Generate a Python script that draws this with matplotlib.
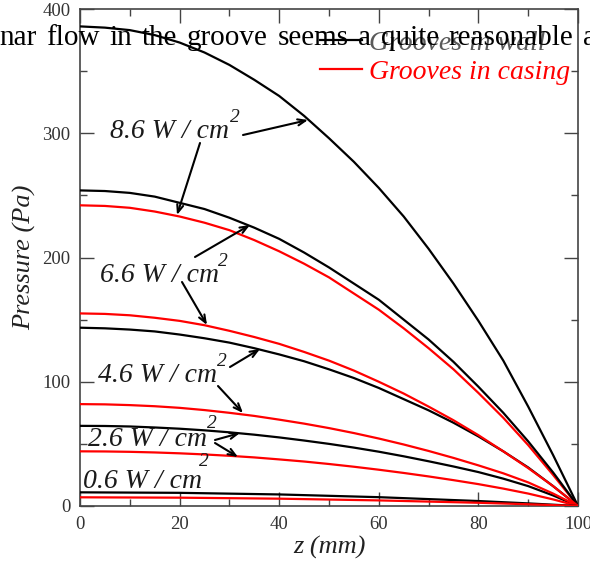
import matplotlib
matplotlib.use("Agg")
import matplotlib.pyplot as plt
from matplotlib.ticker import MultipleLocator

# ---------------- data ----------------
z_grid = [0, 5, 10, 15, 20, 25, 30, 35, 40, 45, 50, 55, 60, 65, 70, 75, 80, 85, 90, 95, 100]

p_b86 = [386, 385, 383, 379, 373, 365, 355, 343, 330, 314, 296, 277, 256, 233, 207, 179, 149, 117, 80, 41, 0]
p_r86 = [242, 241.5, 240, 237, 233, 228, 222, 214, 205, 195, 184, 171, 158, 143, 127, 110, 91, 71, 49, 25, 0]

p_b66 = [254, 253.5, 252, 249, 244, 239, 232, 224, 215, 204, 192, 179, 166, 150, 134, 116, 96, 75, 52, 27, 0]
p_r66 = [155, 154.6, 153.5, 151.5, 149, 145.5, 141, 136, 130.5, 124, 117, 109, 100, 90.5, 80, 69, 57, 44, 30.5, 16, 0]

p_b46 = [143.5, 143, 142, 140.5, 138, 135, 131.5, 127, 122, 116.5, 110, 103, 95, 86, 77, 67, 56, 44, 31, 16, 0]
p_r46 = [82, 81.8, 81.2, 80.3, 79, 77.2, 75, 72.5, 69.5, 66.3, 62.7, 58.7, 54.3, 49.5, 44.3, 38.7, 32.7, 26.3, 19, 10, 0]

p_b26 = [64.5, 64.4, 64, 63.2, 62.2, 60.9, 59.3, 57.4, 55.2, 52.7, 50, 47, 43.7, 40, 36, 31.8, 27.3, 22, 16, 8.5, 0]
p_r26 = [44, 43.9, 43.6, 43.1, 42.4, 41.5, 40.4, 39.1, 37.5, 35.8, 33.8, 31.6, 29.2, 26.6, 23.8, 20.8, 17.6, 14, 10, 5.3, 0]

z_low = [0, 20, 40, 60, 80, 90, 100]
p_b06 = [11, 10.6, 9.3, 7.1, 4.0, 2.1, 0]
p_r06 = [7, 6.7, 5.9, 4.5, 2.6, 1.4, 0]

series_labels = ["Grooves in wall", "Grooves in casing"]
flux_labels = ["8.6 W / cm", "6.6 W / cm", "4.6 W / cm", "2.6 W / cm", "0.6 W / cm"]
x_ticks = [0, 20, 40, 60, 80, 100]
y_ticks = [0, 100, 200, 300, 400]
para_words = ["nar", "flow", "in", "the", "groove", "seems", "a", "quite", "reasonable", "a"]

# ---------------- figure ----------------
W, H = 590, 562
fig = plt.figure(figsize=(W / 100, H / 100), dpi=100)
ax = fig.add_axes([80 / W, 1 - 506 / H, 498 / W, 497 / H])

serif = ["Liberation Serif", "DejaVu Serif"]
lw = 1.6
RED = "#ff0000"
ax.plot(z_grid, p_b86, color="black", lw=lw, label=series_labels[0], zorder=3)
ax.plot(z_grid, p_r86, color=RED, lw=lw, label=series_labels[1], zorder=3)
for pp in [p_b66, p_b46, p_b26]:
    ax.plot(z_grid, pp, color="black", lw=lw, zorder=3)
for pp in [p_r66, p_r46, p_r26]:
    ax.plot(z_grid, pp, color=RED, lw=lw, zorder=3)
ax.plot(z_low, p_b06, color="black", lw=lw, zorder=3)
ax.plot(z_low, p_r06, color=RED, lw=lw, zorder=3)

ax.set_xlim(0, 100)
ax.set_ylim(0, 400)
ax.xaxis.set_major_locator(MultipleLocator(20))
ax.xaxis.set_minor_locator(MultipleLocator(10))
ax.yaxis.set_major_locator(MultipleLocator(100))
ax.yaxis.set_minor_locator(MultipleLocator(50))
ax.set_xticks(x_ticks)
ax.set_yticks(y_ticks)
ax.tick_params(which="both", direction="in", top=True, right=True, color="#444444", width=1.0)
ax.tick_params(which="major", length=10, pad=7, labelsize=13.5, labelcolor="#333333")
ax.tick_params(which="minor", length=5)
for lab in ax.get_xticklabels() + ax.get_yticklabels():
    lab.set_fontfamily(serif)
for sp in ax.spines.values():
    sp.set_color("#444444")
    sp.set_linewidth(1.2)

ax.set_xlabel("z (mm)", fontsize=19, fontstyle="italic", family=serif, color="#222222", labelpad=2)
ax.set_ylabel("Pressure (Pa)", fontsize=19, fontstyle="italic", family=serif, color="#222222", labelpad=4)

# legend
leg = ax.legend(loc="upper left", bbox_to_anchor=(0.482, 0.957), frameon=False,
                prop={"family": serif, "style": "italic", "size": 20},
                handlelength=1.5, handletextpad=0.25, borderpad=0, borderaxespad=0,
                labelspacing=0.12)
for t, c in zip(leg.get_texts(), ["#5a5a5a", RED]):
    t.set_color(c)

# ---------------- annotations ----------------
def px2d(x, y):
    return ((x - 80) / 4.98, (506 - y) / 1.2425)

label_pos = [(110, 132), (100, 275), (98, 375), (88, 440), (83, 482)]
sup_pos = [(235, 117), (223, 261), (222, 361), (212, 424), (204, 462)]
arrows = [
    [((243, 135), (308, 120)), ((200, 143), (177, 215))],
    [((195, 257), (250, 225)), ((182, 282), (207, 325))],
    [((230, 367), (260, 349)), ((218, 386), (243, 413))],
    [((215, 440), (240, 433)), ((215, 443), (238, 457))],
    [],
]
tcol = "#1a1a1a"
for lab, lp, sp, arr in zip(flux_labels, label_pos, sup_pos, arrows):
    ax.text(*px2d(*lp), lab, fontsize=20, fontstyle="italic", family=serif,
            color=tcol, ha="left", va="center", zorder=4)
    ax.text(*px2d(*sp), "2", fontsize=14, fontstyle="italic", family=serif,
            color=tcol, ha="center", va="center", zorder=4)
    for (s, e) in arr:
        ax.annotate("", xy=px2d(*e), xytext=px2d(*s),
                    arrowprops=dict(arrowstyle="->,head_length=0.55,head_width=0.22",
                                    lw=1.5, color="black", shrinkA=0, shrinkB=0),
                    zorder=5)

# ---------------- overlapping paragraph text (scan artifact) ----------------
renderer = fig.canvas.get_renderer()
texts = []
for w in para_words:
    t = fig.text(0, 1 - 45 / H, w, fontsize=21, family=serif, color="black",
                 ha="left", va="baseline", zorder=10)
    texts.append(t)
widths = [t.get_window_extent(renderer).width for t in texts]
x0 = -1
x1 = 583 + widths[-1]
gap = (x1 - x0 - sum(widths)) / (len(widths) - 1)
x = x0
for t, w in zip(texts, widths):
    t.set_x(x / W)
    x += w + gap

fig.savefig("out.png", dpi=100)
